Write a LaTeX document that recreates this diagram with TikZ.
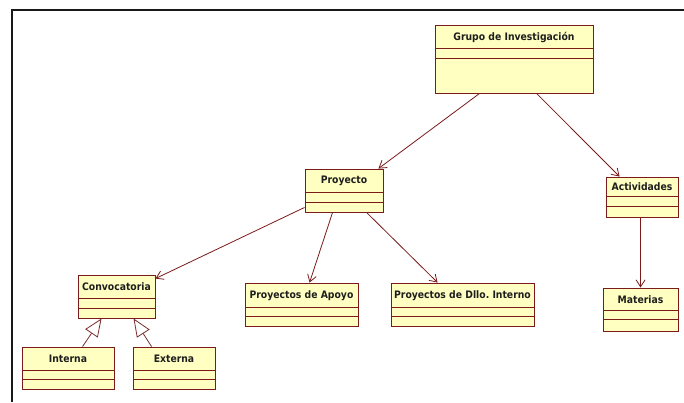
\documentclass[tikz,border=0pt]{standalone}
\usepackage{fontspec}
\setmainfont{DejaVu Sans Condensed}
\usetikzlibrary{arrows.meta,fit,calc}

\definecolor{boxfill}{HTML}{FFFFC2}
\definecolor{boxline}{HTML}{7A1A1A}
\definecolor{txt}{HTML}{1E1E1E}

\tikzset{
  umlbox/.style={draw=boxline, fill=boxfill, line width=0.9pt, inner sep=0pt},
  umlsep/.style={draw=boxline, line width=0.9pt},
  umltext/.style={text=txt, font=\fontsize{10.3}{11}\selectfont\bfseries, inner sep=0pt},
  assoc/.style={draw=boxline, line width=0.8pt, -{Straight Barb[length=7pt,width=9pt,line width=0.8pt]}},
  generalization/.style={draw=boxline!80!gray, line width=0.8pt, -{Triangle[open,length=18pt,width=15pt,line width=0.8pt,fill=white]}},
}

% class box: name, x1, y1, x2, y2, first separator, second separator, title
\newcommand\umlclass[8]{%
  \node[umlbox, fit={(#2,#3) (#4,#5)}] (#1) {};
  \draw[umlsep] (#2,#6) -- (#4,#6) (#2,#7) -- (#4,#7);
  \node[umltext] (#1-t) at ({(#2+#4)/2},{(#3+#6)/2+0.5}) {#8};
}

\begin{document}
\begin{tikzpicture}[x=1pt,y=-1pt]
  \useasboundingbox (0,0) rectangle (684,402);
  \fill[white] (0,0) rectangle (684,402);

  % outer frame
  \draw[line width=2.6pt, black!90] (12,402) -- (12,10) -- (684,10);

  % classes
  \umlclass{g}{435}{25}{593}{93}{48}{58}{Grupo de Investigación}
  \umlclass{p}{305}{169}{383}{212}{192}{202}{Proyecto}
  \umlclass{c}{78}{275}{155}{318}{298}{308}{Convocatoria}
  \umlclass{i}{22}{347}{114}{389}{370}{379}{Interna}
  \umlclass{e}{133}{347}{215}{389}{370}{379}{Externa}
  \umlclass{ap}{245}{283}{358}{326}{307}{316}{Proyectos de Apoyo}
  \umlclass{d}{391}{283}{534}{326}{307}{316}{Proyectos de Dllo.\ Interno}
  \umlclass{a}{606}{177}{678}{217}{196}{206}{Actividades}
  \umlclass{m}{603}{288}{678}{331}{310}{319}{Materias}

  % associations
  \draw[assoc] ($(g.south west)+(45,0)$) -- ($(p.north east)+(-5,0)$);
  \draw[assoc] ($(g.south west)+(102,0)$) -- ($(a.north west)+(14,0)$);
  \draw[assoc] ($(p.south west)+(0,-5)$) -- ($(c.north east)+(0,4)$);
  \draw[assoc] ($(p.south west)+(28,0)$) -- ($(ap.north west)+(65,0)$);
  \draw[assoc] ($(p.south west)+(62,0)$) -- ($(d.north west)+(47,0)$);
  \draw[assoc] ($(a.south west)+(35,0)$) -- ($(m.north west)+(38,0)$);

  % generalizations
  \draw[generalization] ($(i.north west)+(61,0)$) -- ($(c.south west)+(24,0)$);
  \draw[generalization] ($(e.north west)+(19,0)$) -- ($(c.south west)+(56,0)$);
\end{tikzpicture}
\end{document}
